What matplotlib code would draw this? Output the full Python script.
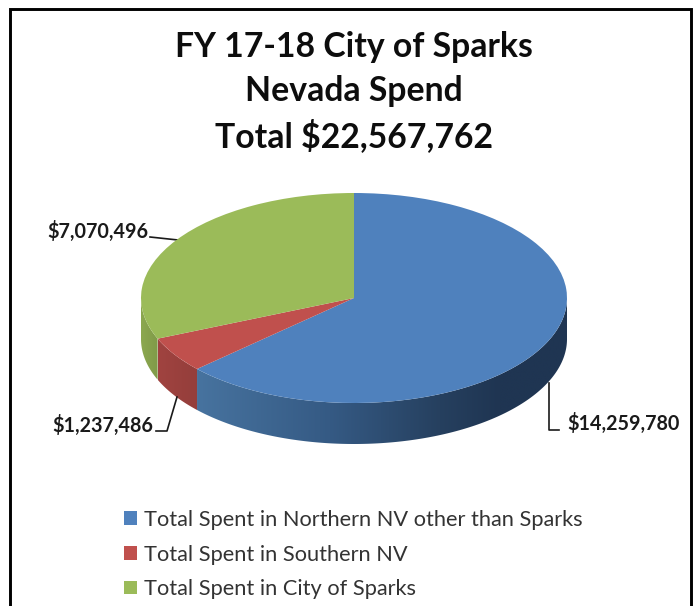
import matplotlib
matplotlib.use("Agg")
import matplotlib.pyplot as plt
import numpy as np
from matplotlib.colors import to_rgb
from matplotlib.patches import Polygon

W, H = 697, 606

categories = [
    "Total Spent in Northern NV other than Sparks",
    "Total Spent in Southern NV",
    "Total Spent in City of Sparks",
]
values = [14259780, 1237486, 7070496]
colors = ["#4F81BD", "#C0504D", "#9BBB59"]
title_lines = ["FY 17-18 City of Sparks", "Nevada Spend", "Total $22,567,762"]

# ellipse of the pie top, in pixels
cx, cy, rx, ry, depth = 354, 298, 213, 105, 41

plt.rcParams["font.family"] = ["Lato", "DejaVu Sans"]

fig = plt.figure(figsize=(W / 100, H / 100), dpi=100)
ax = fig.add_axes([0, 0, 1, 1])
ax.axis("off")

# frame, runs off the bottom of the picture
ax.plot([10, 10, 691, 691], [H + 5, 9, 9, H + 5], color="black", lw=2.1, solid_joinstyle="miter")

# side wall of the pie
side_stops = {
    0: [(197, "#47739F"), (330, "#355A84"), (440, "#26405F"), (500, "#1F3552"), (567, "#1F3552")],
    1: [(158, "#A04340"), (197, "#943E3B")],
    2: [(141, "#8CA850"), (158, "#7F9A48")],
}

edges = np.cumsum([0] + values) / sum(values) * 360
for i in range(len(values)):
    start = max(edges[i], 90)
    stop = min(edges[i + 1], 270)
    if stop <= start:
        continue
    t = np.radians(np.linspace(start, stop, 200))
    x = cx + rx * np.sin(t)
    y = cy - ry * np.cos(t)
    outline = np.r_[np.c_[x, y], np.c_[x, y + depth][::-1]]
    clip = Polygon(outline, closed=True, transform=ax.transData, fc="none", ec="none")
    ax.add_patch(clip)

    x0, x1 = x.min(), x.max()
    px = np.linspace(x0, x1, 256)
    stops_x = [s[0] for s in side_stops[i]]
    stops_c = np.array([to_rgb(s[1]) for s in side_stops[i]])
    grad = np.stack([np.interp(px, stops_x, stops_c[:, k]) for k in range(3)], axis=-1)[None, :, :]
    im = ax.imshow(grad, extent=[x0, x1, y.max() + depth, y.min()], aspect="auto", interpolation="bilinear")
    im.set_clip_path(clip)

ax.set_xlim(0, W)
ax.set_ylim(H, 0)

# pie top
pie_ax = fig.add_axes([(cx - rx) / W, 1 - (cy + ry) / H, 2 * rx / W, 2 * ry / H])
wedges, _ = pie_ax.pie(values, colors=colors, startangle=90, counterclock=False, radius=1)
pie_ax.set_aspect("auto")
pie_ax.set_xlim(-1, 1)
pie_ax.set_ylim(-1, 1)
pie_ax.patch.set_alpha(0)

# title
for line, y in zip(title_lines, [47, 91, 136]):
    ax.text(354, y, line, ha="center", va="center", fontsize=24.3, fontweight="bold", color="#0d0d0d")

# data labels with leader lines
label_pos = [(567, 423, "left"), (153, 425, "right"), (148, 231, "right")]
leaders = [
    ([559, 549, 549], [430, 430, 383]),
    ([156, 167, 177], [431, 431, 397]),
    ([150, 178], [237, 240]),
]
for v, (x, y, ha), (lx, ly) in zip(values, label_pos, leaders):
    ax.text(x, y, f"${v:,}", ha=ha, va="center", fontsize=14.2, fontweight="bold", color="#1a1a1a")
    ax.plot(lx, ly, color="#1a1a1a", lw=1.2)

# legend
ax.legend(
    wedges,
    categories,
    loc="upper left",
    bbox_to_anchor=(124 / W, 1 - 510 / H),
    bbox_transform=fig.transFigure,
    frameon=False,
    fontsize=15.7,
    labelcolor="#333333",
    borderaxespad=0,
    borderpad=0,
    handlelength=0.6,
    handleheight=0.6,
    handletextpad=0.32,
    labelspacing=0.67,
)

fig.savefig("out.png", dpi=100)
